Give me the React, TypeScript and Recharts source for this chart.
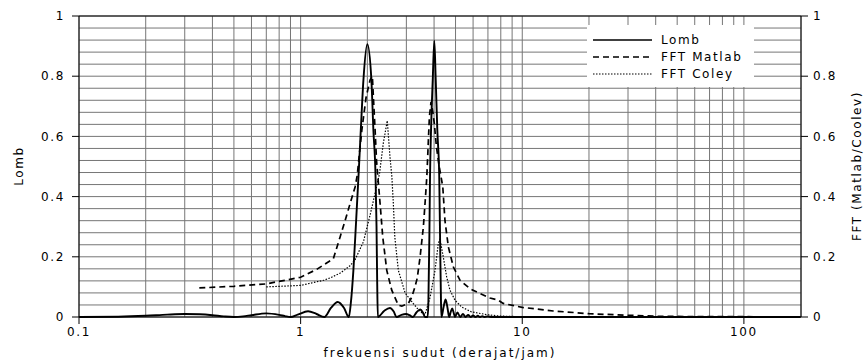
import React from "react";
import { LineChart, Line, XAxis, YAxis, CartesianGrid, ReferenceLine } from "recharts";

// [frequency (deg/hour), power]
const lomb: [number, number][] = [
  [0.1, 0], [0.15, 0.001], [0.2, 0.004], [0.25, 0.008], [0.3, 0.01], [0.35, 0.009], [0.4, 0.006],
  [0.45, 0.002], [0.5, 0], [0.55, 0.002], [0.6, 0.006], [0.7, 0.012], [0.8, 0.007], [0.85, 0.003],
  [0.9, 0], [0.97, 0.008], [1.08, 0.019], [1.18, 0.01], [1.28, 0], [1.37, 0.03], [1.47, 0.05],
  [1.57, 0.03], [1.65, 0], [1.684, 0.045], [1.73, 0.155], [1.78, 0.32], [1.83, 0.487], [1.868, 0.62],
  [1.92, 0.787], [2.0, 0.906], [2.086, 0.787], [2.13, 0.62], [2.178, 0.466], [2.2, 0.3], [2.215, 0.12],
  [2.23, 0], [2.38, 0.02], [2.53, 0.03], [2.63, 0.018], [2.71, 0], [2.85, 0.007], [2.99, 0.01],
  [3.1, 0.006], [3.21, 0], [3.33, 0.015], [3.46, 0.025], [3.56, 0.015], [3.64, 0], [3.74, 0],
  [3.77, 0.045], [3.81, 0.27], [3.836, 0.47], [3.876, 0.62], [3.945, 0.787], [4.01, 0.918],
  [4.07, 0.787], [4.138, 0.62], [4.22, 0.47], [4.256, 0.27], [4.3, 0.045], [4.32, 0], [4.42, 0.035],
  [4.51, 0.058], [4.6, 0.03], [4.68, 0], [4.76, 0.018], [4.83, 0.028], [4.9, 0.015], [4.97, 0],
  [5.1, 0.015], [5.25, 0], [5.4, 0.01], [5.55, 0], [5.7, 0.007], [5.85, 0], [6.0, 0.005], [6.15, 0],
  [6.3, 0.004], [6.45, 0], [6.6, 0.003], [6.75, 0], [7.0, 0.002], [7.3, 0], [10, 0], [180, 0],
];

const fftMatlab: [number, number][] = [
  [0.349, 0.0965], [0.5, 0.102], [0.7, 0.11], [1.0, 0.132], [1.18, 0.158], [1.405, 0.194],
  [1.507, 0.266], [1.587, 0.32], [1.672, 0.377], [1.761, 0.432], [1.8, 0.47], [1.888, 0.62],
  [1.974, 0.73], [2.057, 0.787], [2.107, 0.8], [2.13, 0.73], [2.168, 0.62], [2.2, 0.52], [2.24, 0.45],
  [2.283, 0.377], [2.347, 0.266], [2.447, 0.155], [2.577, 0.089], [2.76, 0.039], [2.86, 0.036],
  [3.06, 0.045], [3.17, 0.065], [3.28, 0.1], [3.36, 0.13], [3.46, 0.2], [3.58, 0.3], [3.66, 0.4],
  [3.71, 0.466], [3.76, 0.565], [3.81, 0.665], [3.876, 0.715], [3.95, 0.68], [4.01, 0.643],
  [4.1, 0.565], [4.22, 0.5], [4.3, 0.466], [4.38, 0.432], [4.48, 0.32], [4.64, 0.233], [4.89, 0.166],
  [5.24, 0.122], [5.81, 0.094], [6.45, 0.078], [7.15, 0.063], [7.8, 0.056], [8.2, 0.045], [10, 0.032],
  [13.8, 0.02], [20, 0.011], [27, 0.007], [42, 0.002], [100, 0.001], [180, 0],
];

const fftColey: [number, number][] = [
  [0.7, 0.1], [1.0, 0.105], [1.27, 0.122], [1.36, 0.13], [1.51, 0.146], [1.67, 0.17], [1.76, 0.19],
  [1.92, 0.25], [2.06, 0.34], [2.2, 0.432], [2.27, 0.477], [2.36, 0.577], [2.46, 0.652], [2.53, 0.532],
  [2.58, 0.466], [2.62, 0.377], [2.66, 0.266], [2.76, 0.155], [2.96, 0.08], [3.22, 0.045],
  [3.46, 0.018], [3.64, 0.008], [3.84, 0.066], [4.04, 0.155], [4.18, 0.244], [4.25, 0.26], [4.4, 0.2],
  [4.56, 0.133], [4.72, 0.089], [4.97, 0.056], [5.33, 0.033], [5.9, 0.017], [6.9, 0.008],
  [7.9, 0.003], [10, 0.001], [13, 0],
];

const xTicks = [
  0.1, 0.2, 0.3, 0.4, 0.5, 0.6, 0.7, 0.8, 0.9,
  1, 2, 3, 4, 5, 6, 7, 8, 9,
  10, 20, 30, 40, 50, 60, 70, 80, 90,
  100,
];
const xLabels = [0.1, 1, 10, 100];
const yTicks = [
  0, 0.04, 0.08, 0.12, 0.16, 0.2, 0.24, 0.28, 0.32, 0.36, 0.4, 0.44, 0.48,
  0.52, 0.56, 0.6, 0.64, 0.68, 0.72, 0.76, 0.8, 0.84, 0.88, 0.92, 0.96, 1,
];
const yLabels = [0, 0.2, 0.4, 0.6, 0.8, 1];

const seriesNames = ["Lomb", "FFT Matlab", "FFT Coley"];

const toRows = (pts: [number, number][]) => pts.map(([x, y]) => ({ x, y }));

const FONT = "'DejaVu Sans', sans-serif";
const txt = { fontFamily: FONT, fontSize: 12, letterSpacing: 1.6, fill: "#000" };
const isIn = (list: number[], v: number) => list.some((t) => Math.abs(t - v) < 1e-9);

function XTick({ x, y, payload }: any) {
  if (!isIn(xLabels, payload.value)) return null;
  return (
    <g>
      <line x1={x} x2={x} y1={y - 10} y2={y - 3} stroke="#000" />
      <text x={x} y={y} dy="0.72em" textAnchor="middle" style={txt}>
        {String(payload.value)}
      </text>
    </g>
  );
}

function LeftTick({ x, y, payload }: any) {
  if (!isIn(yLabels, payload.value)) return null;
  return (
    <g>
      <line x1={x + 7} x2={x + 14} y1={y} y2={y} stroke="#000" />
      <text x={x} y={y} dy="0.35em" textAnchor="end" style={txt}>
        {String(payload.value)}
      </text>
    </g>
  );
}

function RightTick({ x, y, payload }: any) {
  if (!isIn(yLabels, payload.value)) return null;
  return (
    <g>
      <line x1={x - 12} x2={x - 5} y1={y} y2={y} stroke="#000" />
      <text x={x} y={y} dy="0.35em" textAnchor="start" style={txt}>
        {String(payload.value)}
      </text>
    </g>
  );
}

function LegendBox() {
  const dashes = [undefined, "6 4", "1.5 1.5"];
  const widths = [1.6, 1.6, 1.2];
  return (
    <g transform="translate(587 25)">
      <rect x={0} y={0} width={167} height={62} fill="#fff" />
      {seriesNames.map((name, i) => (
        <g key={name}>
          <line x1={6} x2={65} y1={15 + i * 17} y2={15 + i * 17} stroke="#000"
            strokeWidth={widths[i]} strokeDasharray={dashes[i]} />
          <text x={74} y={15 + i * 17} dy="0.35em" style={txt}>{name}</text>
        </g>
      ))}
    </g>
  );
}

export default function App() {
  return (
    <div style={{ position: "absolute", left: 0, top: 0, background: "#fff" }}>
      <LineChart width={865} height={360} margin={{ top: 16, right: 0, bottom: 0, left: 0 }}>
        <CartesianGrid yAxisId="left" stroke="#767676" strokeWidth={1} />
        <XAxis dataKey="x" type="number" scale="log" domain={[0.1, 181]} allowDataOverflow
          ticks={xTicks} interval={0} height={43} tickSize={7} tickMargin={3}
          tickLine={false} stroke="#000" tick={<XTick />} />
        <YAxis yAxisId="left" type="number" domain={[0, 1]} ticks={yTicks} interval={0}
          width={79} tickSize={7} tickMargin={7} tickLine={false} stroke="#000" tick={<LeftTick />} />
        <YAxis yAxisId="right" orientation="right" type="number" domain={[0, 1]} ticks={yTicks}
          interval={0} width={64} tickSize={7} tickMargin={5} tickLine={false} stroke="#000"
          tick={<RightTick />} />
        <ReferenceLine yAxisId="left" y={1} stroke="#000" />
        <Line yAxisId="left" data={toRows(lomb)} dataKey="y" name={seriesNames[0]} type="monotone"
          stroke="#000" strokeWidth={1.9} dot={false} isAnimationActive={false} />
        <Line yAxisId="right" data={toRows(fftMatlab)} dataKey="y" name={seriesNames[1]} type="linear"
          stroke="#000" strokeWidth={1.7} strokeDasharray="6 4" dot={false} isAnimationActive={false} />
        <Line yAxisId="right" data={toRows(fftColey)} dataKey="y" name={seriesNames[2]} type="linear"
          stroke="#000" strokeWidth={1.2} strokeDasharray="1.5 1.5" dot={false} isAnimationActive={false} />
        <text x={19} y={166} transform="rotate(-90 19 166)" textAnchor="middle" dy="0.35em" style={txt}>
          Lomb
        </text>
        <text x={857} y={166} transform="rotate(-90 857 166)" textAnchor="middle" dy="0.35em" style={txt}>
          FFT (Matlab/Coolev)
        </text>
        <text x={440} y={353} textAnchor="middle" dy="0.35em" style={{ ...txt, letterSpacing: 2 }}>
          frekuensi sudut (derajat/jam)
        </text>
        <LegendBox />
      </LineChart>
    </div>
  );
}
